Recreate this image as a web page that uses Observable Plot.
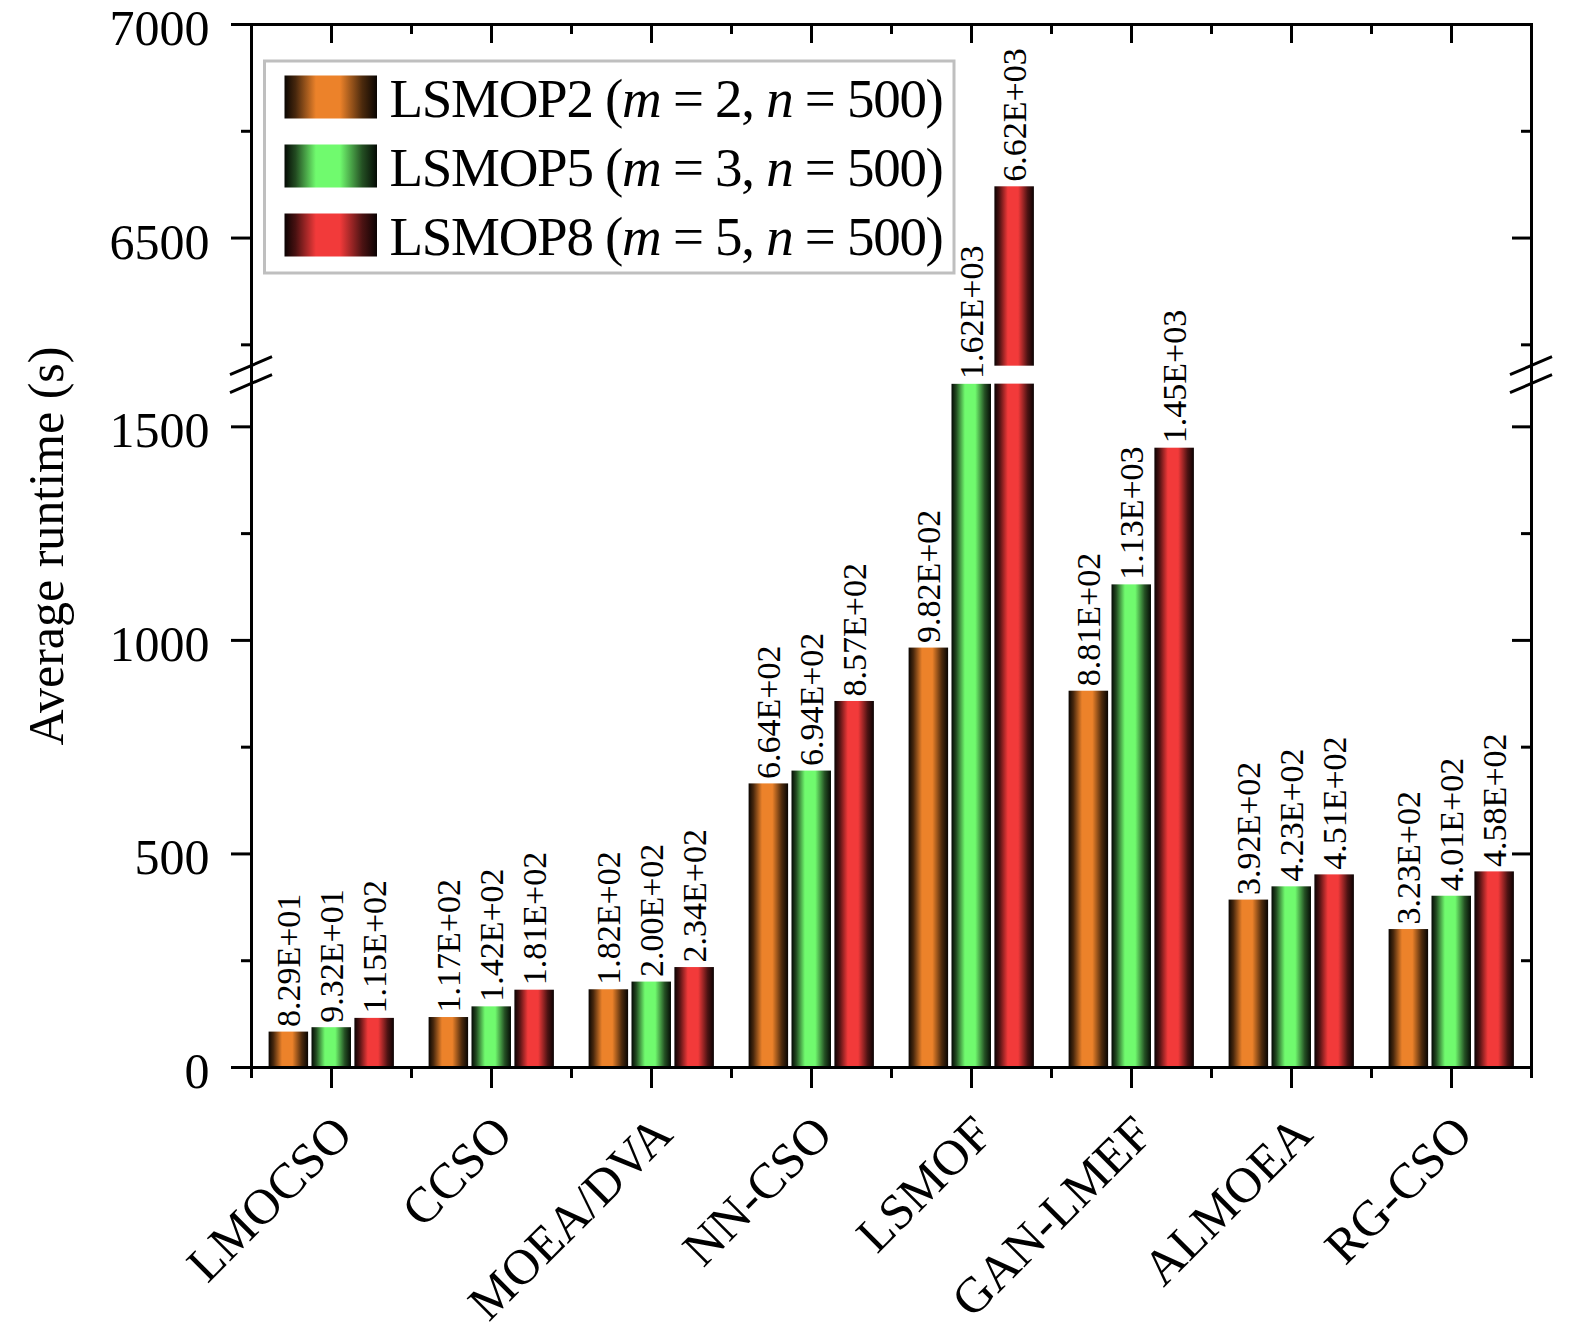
<!DOCTYPE html>
<html>
<head>
<meta charset="utf-8">
<script src="https://cdn.jsdelivr.net/npm/d3@7"></script>
<script src="https://cdn.jsdelivr.net/npm/@observablehq/plot@0.6"></script>
<style>
  html, body { margin: 0; padding: 0; background: #fff; }
  #chart svg { display: block; }
</style>
</head>
<body>
<div id="chart"></div>
<script>
// ---------- data ----------
const methods = ["LMOCSO", "CCSO", "MOEA/DVA", "NN-CSO", "LSMOF", "GAN-LMEF", "ALMOEA", "RG-CSO"];
const seriesNames = ["LSMOP2", "LSMOP5", "LSMOP8"];
const seriesM = [2, 3, 5];
const seriesN = [500, 500, 500];
const lsmop2 = [82.9, 117, 182, 664, 982, 881, 392, 323];
const lsmop5 = [93.2, 142, 200, 694, 1620, 1130, 423, 401];
const lsmop8 = [115, 181, 234, 857, 6620, 1450, 451, 458];
const seriesColors = ["#EC822A", "#70FA6E", "#F23A3A"];
const yMajorTicks = [0, 500, 1000, 1500, 6500, 7000];
const yMinorTicks = [250, 750, 1250, 6250, 6750];
const yBreak = [1600, 6200];      // lower segment 0–1600, upper 6200–7000
const yMax = 7000;
const yTitle = "Average runtime (s)";

// ---------- layout ----------
const W = 1575, H = 1338, ML = 251, MR = 44, MT = 24, MB = 271;
const FW = W - ML - MR, FH = H - MT - MB;
const STEP = FW / methods.length;
const GROUP_PAD = 17.6, BAR_W = 39.5, BAR_GAP = 3.4;
const FONT = "'Liberation Serif', 'Times New Roman', serif";
const GAP = 42;   // size of the axis break, in compressed value units

// broken-axis mapping (value -> compressed coordinate)
const yMap = v => v <= yBreak[0] ? v
  : v >= yBreak[1] ? yBreak[0] + GAP + (v - yBreak[1])
  : yBreak[0] + (v - yBreak[0]) / (yBreak[1] - yBreak[0]) * GAP;

const rows = [];
[lsmop2, lsmop5, lsmop8].forEach((vals, s) =>
  vals.forEach((v, i) => rows.push({method: methods[i], series: seriesNames[s], s, value: v})));

function fmt(v) {
  const [m, e] = v.toExponential(2).split("e");
  return m + "E" + e[0] + e.slice(1).padStart(2, "0");
}
const barLeft = s => GROUP_PAD + s * (BAR_W + BAR_GAP);

const barMarks = seriesNames.map((name, s) =>
  Plot.barY(rows.filter(d => d.s === s), {
    x: "method", y1: () => 0, y2: d => yMap(d.value), fill: `url(#grad${s})`,
    insetLeft: barLeft(s), insetRight: STEP - barLeft(s) - BAR_W
  }));

const labelMarks = seriesNames.map((name, s) =>
  Plot.text(rows.filter(d => d.s === s), {
    x: "method", y: d => yMap(d.value), text: d => fmt(d.value),
    rotate: -90, textAnchor: "start", lineAnchor: "middle",
    dx: barLeft(s) + BAR_W / 2 - STEP / 2, dy: -5, fontSize: 34, fill: "black"
  }));

const chart = Plot.plot({
  width: W, height: H,
  marginLeft: ML, marginRight: MR, marginTop: MT, marginBottom: MB,
  style: {fontFamily: FONT, background: "white", color: "black"},
  x: {domain: methods, padding: 0, axis: null},
  y: {domain: [0, yMap(yMax)], axis: null},
  marks: [
    ...barMarks,
    // white gap across the axis break
    Plot.barY(methods, {x: d => d, y1: () => yMap(yBreak[0]), y2: () => yMap(yBreak[1]), fill: "white"}),
    ...labelMarks,
    // left minor ticks (outward)
    Plot.ruleY(yMinorTicks, {y: d => yMap(d), insetLeft: -10, insetRight: FW, strokeWidth: 3}),
    // right ticks (inward)
    Plot.ruleY(yMajorTicks, {y: d => yMap(d), insetLeft: FW - 19, strokeWidth: 3}),
    Plot.ruleY(yMinorTicks, {y: d => yMap(d), insetLeft: FW - 10, strokeWidth: 3}),
    // top ticks (inward)
    Plot.ruleX(methods, {x: d => d, insetBottom: FH - 19, strokeWidth: 3}),
    Plot.ruleX(methods.slice(1), {x: d => d, dx: -STEP / 2, insetBottom: FH - 10, strokeWidth: 3}),
    // bottom minor ticks at group boundaries (outward)
    Plot.ruleX(methods, {x: d => d, dx: -STEP / 2, insetTop: FH, insetBottom: -11, strokeWidth: 3}),
    Plot.ruleX(methods.slice(-1), {x: d => d, dx: STEP / 2, insetTop: FH, insetBottom: -11, strokeWidth: 3}),
    Plot.frame({strokeWidth: 3}),
    Plot.axisY({anchor: "left", ticks: yMajorTicks.map(yMap), tickSize: 20,
      tickFormat: () => "", strokeWidth: 3, label: null}),
    Plot.text(yMajorTicks, {y: d => yMap(d), text: d => String(d), frameAnchor: "left",
      textAnchor: "end", lineAnchor: "middle", dx: -42, dy: 4.5, fontSize: 50, fill: "black"}),
    Plot.axisX({anchor: "bottom", tickSize: 21, tickFormat: () => "", strokeWidth: 3, label: null}),
    Plot.text(methods, {x: d => d, frameAnchor: "bottom", rotate: -45, textAnchor: "end",
      lineAnchor: "middle", dx: 12, dy: 58, fontSize: 50, fill: "black"}),
    Plot.text([yTitle], {frameAnchor: "left", dx: -189, rotate: -90,
      textAnchor: "middle", lineAnchor: "bottom", fontSize: 50, fill: "black"})
  ]
});

document.getElementById("chart").appendChild(chart);

// ---------- gradients ----------
const svg = d3.select(chart);
const defs = svg.insert("defs", ":first-child");
const gradStops = [[0, 0.04], [0.12, 0.3], [0.34, 1], [0.6, 1], [0.84, 0.32], [1, 0.04]];
seriesColors.forEach((c, s) => {
  const g = defs.append("linearGradient").attr("id", `grad${s}`)
    .attr("x1", 0).attr("x2", 1).attr("y1", 0).attr("y2", 0);
  gradStops.forEach(([o, t]) =>
    g.append("stop").attr("offset", o).attr("stop-color", d3.interpolateRgb("#000", c)(t)));
});

// ---------- axis break marks ----------
const ys = chart.scale("y");
const xr = chart.scale("x").range;
for (const edge of [xr[0], xr[1]]) {
  for (const v of yBreak) {
    const yc = ys.apply(yMap(v));
    svg.append("line")
      .attr("x1", edge - 21).attr("y1", yc + 9)
      .attr("x2", edge + 21).attr("y2", yc - 9)
      .attr("stroke", "black").attr("stroke-width", 3);
  }
}

// ---------- legend ----------
const lg = svg.append("g").attr("font-family", FONT).attr("text-anchor", "start");
lg.append("rect").attr("x", 264.5).attr("y", 61).attr("width", 689.5).attr("height", 212)
  .attr("fill", "white").attr("stroke", "#BFBFBF").attr("stroke-width", 3);
seriesNames.forEach((name, s) => {
  const cy = 97 + s * 69;
  lg.append("rect").attr("x", 284.5).attr("y", cy - 21.5).attr("width", 92.5).attr("height", 43)
    .attr("fill", `url(#grad${s})`);
  const t = lg.append("text").attr("x", 389.5).attr("y", cy + 19.5).attr("font-size", 55)
    .attr("letter-spacing", -1.3).attr("text-anchor", "start").attr("fill", "black")
    .style("white-space", "pre");
  t.append("tspan").text(`${name} (`);
  t.append("tspan").attr("font-style", "italic").text("m");
  t.append("tspan").text(` = ${seriesM[s]}, `);
  t.append("tspan").attr("font-style", "italic").text("n");
  t.append("tspan").text(` = ${seriesN[s]})`);
});
</script>
</body>
</html>
